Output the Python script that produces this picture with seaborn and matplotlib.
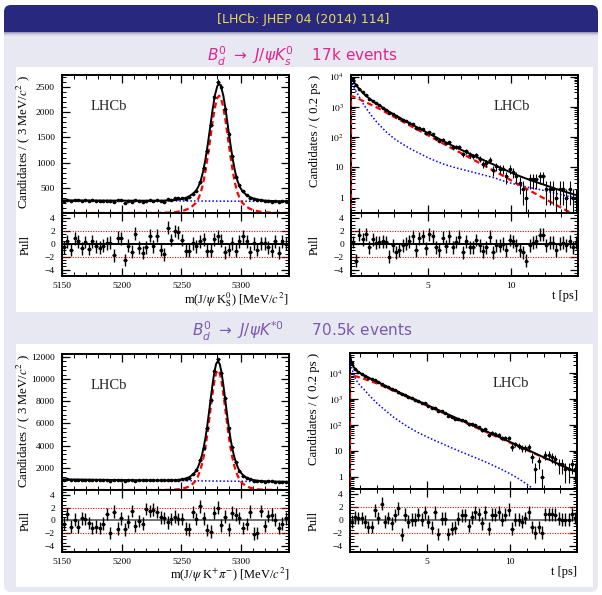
import numpy as np
import matplotlib
matplotlib.use("Agg")
import matplotlib.pyplot as plt
import seaborn as sns
from matplotlib.patches import FancyBboxPatch, Rectangle
from matplotlib.ticker import FixedLocator, FixedFormatter, MultipleLocator, NullFormatter, LogLocator

# ------------------------------------------------------------------ data
title_text = "[LHCb: JHEP 04 (2014) 114]"
subtitle_top = r"$B_d^0\ \rightarrow\ J/\psi K_s^0$" + "    17k events"
subtitle_bot = r"$B_d^0\ \rightarrow\ J/\psi K^{*0}$" + "      70.5k events"

# mass binning (3 MeV bins from 5150) and decay-time binning (0.2 ps bins from 0.4)
mass_centers = 5151.5 + 3.0 * np.arange(63)
time_centers = 0.5 + 0.2 * np.arange(68)

# --- B0 -> J/psi KS : mass
ks_mass_counts = [242, 255, 235, 263, 254, 237, 253, 235, 253, 241, 238, 241, 248, 248, 217, 260,
                  259, 205, 239, 225, 268, 234, 221, 235, 263, 238, 264, 231, 220, 285, 258, 289,
                  297, 290, 282, 312, 379, 443, 606, 892, 1238, 1751, 2308, 2606, 2510, 2064, 1578,
                  1131, 724, 547, 436, 360, 289, 287, 252, 255, 247, 232, 221, 241, 211, 237, 230]
ks_mass_pulls = [-0.5, 0.4, -0.9, 0.9, 0.4, -0.7, 0.3, -0.8, 0.4, -0.4, -0.6, -0.3, 0.1, 0.15, -1.8,
                 0.95, 0.9, -2.5, -0.3, -1.2, 1.6, -0.6, -1.4, -0.5, 1.3, -0.4, 1.3, -0.9, -1.6, 2.5,
                 0.6, 2.0, 1.8, 0.6, -1.05, -1.05, 0.1, -0.4, 0.4, 0.7, -1.05, -1.05, 0.7, 1.2, 0.5,
                 -1.3, -0.9, 0.1, -1.05, 0.4, 1.15, 0.4, -1.3, 0.1, -0.95, 0.1, 0.1, -0.5, -1.05, 0.4,
                 -1.4, 0.4, 0.0]
ks_mass_curve_x = [5150, 5200, 5230, 5240, 5245, 5250, 5253, 5256, 5259, 5262, 5264, 5266, 5268, 5270,
                   5272, 5274, 5276, 5278, 5280, 5281.5, 5283, 5285, 5287, 5289, 5291, 5293, 5295, 5297,
                   5299, 5301, 5304, 5307, 5310, 5315, 5320, 5330, 5340]
ks_mass_total = [250, 245, 244, 250, 258, 278, 296, 327, 372, 438, 516, 633, 813, 1057, 1362, 1702, 2047,
                 2337, 2521, 2566, 2521, 2336, 2046, 1700, 1360, 1055, 810, 630, 512, 434, 367, 322, 290,
                 262, 245, 235, 232]
ks_mass_signal = [0, 0, 2.5, 9, 18, 38, 57, 88, 133, 200, 278, 395, 575, 820, 1125, 1465, 1810, 2100,
                  2285, 2330, 2285, 2100, 1810, 1465, 1125, 820, 575, 395, 278, 200, 133, 88, 57, 29,
                  13, 3.5, 1.5]
ks_mass_bkg_x = [5150, 5340]
ks_mass_bkg = [250, 230]

# --- B0 -> J/psi KS : decay time
ks_time_counts = [7726, 5111, 3987, 3038, 2402, 1878, 1598, 1320, 1120, 952, 808, 637, 585, 481, 419,
                  379, 334, 299, 272, 205, 204, 184, 138, 145, 125, 93, 77, 83, 63, 67, 48, 48, 48, 28,
                  34, 26, 23, 25, 19, 13, 14, 18, 8, 11, 9, 9, 5, 9, 7, 5, 3, 2, 1, 4, 4, 4, 5, 5, 2,
                  2, 2, 1, 2, 2, 1, 2, 1, 1]
ks_time_pulls = [0.3, -2.6, 1.4, 0.7, 1.5, -0.5, 0.7, 0.15, 0.3, 0.4, 0.3, -2.0, -0.2, -1.3, -1.0,
                 -0.2, 0.05, 0.4, 1.2, -1.0, 0.85, 1.2, -0.7, 1.5, 1.2, -0.5, -1.0, 0.95, -0.4, 1.2,
                 -0.5, 0.3, 1.1, -1.3, 0.4, -0.5, -0.5, 0.6, -0.2, -1.15, -0.5, 1.1, -1.3, -0.2, -0.3,
                 0.05, -1.0, 0.6, 0.4, -0.2, -1.0, -1.3, -2.6, -0.2, 0.15, 0.4, 1.4, 1.4, -0.2, 0.15,
                 0.15, -1.0, 0.05, 0.15, -0.2, 0.4, -0.5, 0.15]
ks_time_curve_x = [0.4, 0.5, 0.6, 0.7, 0.8, 0.9, 1.0, 1.2, 1.4, 1.6, 1.8, 2.0, 2.5, 3.0, 3.5, 4.0, 4.5,
                   5.0, 5.5, 6.0, 6.5, 7.0, 7.5, 8.0, 8.5, 9.0, 9.5, 10.0, 10.5, 11.0, 11.5, 12.0, 12.5,
                   13.0, 13.5, 14.0]
ks_time_total = [9800, 7700, 6300, 5300, 4500, 3900, 3400, 2600, 2090, 1720, 1430, 1210, 800, 548, 383,
                 270, 192, 137, 98, 70.5, 51.3, 38.2, 28.4, 21.2, 15.9, 12.0, 8.9, 6.7, 5.15, 4.05,
                 3.25, 2.62, 2.1, 1.71, 1.41, 1.16]
ks_time_bkg = [7500, 5500, 4200, 3300, 2600, 2100, 1700, 1100, 760, 540, 390, 290, 150, 88, 58, 40, 29,
               21, 16, 12.5, 10.3, 8.7, 7.4, 6.3, 5.3, 4.5, 3.6, 3.0, 2.55, 2.2, 1.95, 1.7, 1.45,
               1.25, 1.08, 0.93]
ks_time_sig_x = [0.4, 0.402, 0.5, 0.6, 0.7, 0.8, 0.9, 1.0, 1.2, 1.4, 1.6, 1.8, 2.0, 2.5, 3.0, 3.5, 4.0,
                 4.5, 5.0, 5.5, 6.0, 6.5, 7.0, 7.5, 8.0, 8.5, 9.0, 9.5, 10.0, 10.5, 11.0, 11.5, 12.0,
                 12.5, 13.0, 13.5, 14.0]
ks_time_signal = [0.05, 2300, 2200, 2100, 2000, 1900, 1800, 1700, 1500, 1330, 1180, 1040, 920, 650, 460,
                  325, 230, 163, 116, 82, 58, 41, 29.5, 21, 14.9, 10.6, 7.5, 5.3, 3.7, 2.6, 1.85, 1.3,
                  0.92, 0.65, 0.46, 0.33, 0.23]

# --- B0 -> J/psi K*0 : mass
kst_mass_counts = [933, 976, 911, 941, 904, 941, 934, 913, 886, 888, 879, 897, 938, 845, 944, 860, 904,
                   850, 883, 930, 855, 876, 860, 925, 913, 915, 900, 880, 877, 858, 879, 904, 918, 965,
                   994, 1114, 1437, 1784, 2663, 3807, 5603, 8098, 10733, 11821, 10520, 8303, 5590, 3836,
                   2564, 1753, 1299, 1089, 1020, 830, 781, 849, 762, 793, 791, 762, 720, 735, 753]
kst_mass_pulls = [-0.5, 1.0, -1.0, 0.1, -1.0, 0.3, 0.2, -0.4, -1.2, -1.0, -1.2, -0.5, 1.0, -2.0, 1.4,
                  -1.3, 0.3, -1.4, -0.2, 1.5, -0.9, -0.1, -0.5, 1.8, 1.5, 1.7, 1.3, 0.5, 0.4, -0.3, 0.2,
                  0.6, 0.2, 0.2, -1.3, -1.4, 1.3, 0.2, 2.2, 0.3, -1.5, -1.8, 1.2, 2.0, -0.8, 0.6, -1.4,
                  1.2, 0.9, 0.4, -1.2, -0.6, 1.4, -2.1, -2.0, 1.5, -0.9, 0.7, 0.9, 0.1, -1.2, -0.5, 0.3]
kst_mass_curve_x = [5150, 5200, 5225, 5235, 5240, 5244.5, 5247.5, 5250.5, 5253.5, 5256.5, 5259.5, 5261,
                    5262.5, 5264, 5265.5, 5267, 5268.5, 5270, 5271.5, 5273, 5274.5, 5276, 5277.5, 5279,
                    5280.5, 5282, 5283.5, 5285, 5286.5, 5288, 5289.5, 5291, 5292.5, 5294, 5295.5, 5297,
                    5298.5, 5300, 5301.5, 5304.5, 5307.5, 5310.5, 5313.5, 5316.5, 5320.5, 5325.5,
                    5330.5, 5340]
kst_mass_total = [950, 896, 869, 865, 870, 886, 912, 959, 1036, 1162, 1389, 1562, 1775, 2114, 2552, 3091,
                  3789, 4667, 5716, 6964, 8262, 9511, 10609, 11357, 11606, 11354, 10602, 9501, 8249,
                  6948, 5696, 4644, 3763, 3061, 2519, 2078, 1736, 1519, 1343, 1109, 976, 893, 839, 806,
                  782, 765, 755, 741]
kst_mass_signal = [0, 0.5, 2, 9, 19, 40, 70, 120, 200, 330, 560, 735, 950, 1290, 1730, 2270, 2970, 3850,
                   4900, 6150, 7450, 8700, 9800, 10550, 10800, 10550, 9800, 8700, 7450, 6150, 4900,
                   3850, 2970, 2270, 1730, 1290, 950, 735, 560, 330, 200, 120, 70, 40, 20, 9, 4, 1]
kst_mass_bkg_x = [5150, 5340]
kst_mass_bkg = [950, 740]

# --- B0 -> J/psi K*0 : decay time
kst_time_counts = [24153, 14448, 11132, 9229, 7873, 6610, 5716, 5157, 4390, 3934, 3233, 2846, 2425, 2152,
                   1927, 1518, 1430, 1219, 1080, 950, 853, 730, 670, 548, 463, 450, 332, 331, 290, 217,
                   200, 176, 171, 158, 139, 104, 104, 98, 85, 63, 69, 42, 51, 45, 42, 31, 31, 31, 14,
                   18, 16, 13, 13, 14, 6, 2, 4, 1, 7, 7, 6, 5, 3, 3, 2, 2, 3, 2]
kst_time_pulls = [-0.3, 0.4, 0.3, 0.3, -0.3, -1.1, -1.1, 1.5, 0.3, 2.5, -0.3, 0.3, -0.5, 0.7, 1.8, -2.3,
                  0.8, -0.3, 0.0, 0.0, 0.8, 0.0, 1.2, -0.3, -1.2, 1.2, -2.2, 0.15, 0.15, -2.2, -1.35,
                  -1.2, 0.15, 0.7, 0.7, -0.9, 0.4, 1.2, 0.9, -0.5, 1.2, -1.35, 0.8, 0.8, 1.2, 0.0, 0.8,
                  1.6, -1.35, 0.0, 0.0, -0.3, 0.3, 1.2, -1.1, -2.0, -1.1, -2.0, 0.9, 0.9, 0.9, 0.8,
                  0.15, 0.0, 0.0, 0.0, 0.9, 0.3]
kst_time_curve_x = [0.4, 0.5, 0.6, 0.7, 0.8, 1.0, 1.25, 1.5, 2.0, 2.5, 3.0, 3.5, 4.0, 4.5, 5.0, 5.5, 6.0,
                    6.5, 7.0, 7.5, 8.0, 8.5, 9.0, 9.5, 10.0, 10.5, 11.0, 11.5, 12.0, 12.5, 13.0, 13.5,
                    14.0]
kst_time_total = [53400, 24200, 17900, 14400, 12300, 10000, 8200, 6700, 4700, 3250, 2270, 1610, 1150, 823,
                  591, 425, 306, 220, 158.5, 114, 82.2, 59.3, 42.7, 30.6, 21.9, 15.75, 11.2, 8.0, 5.67,
                  4.1, 2.93, 2.1, 1.5]
kst_time_bkg = [45000, 16000, 10000, 6800, 5000, 3300, 2300, 1500, 700, 370, 200, 120, 75, 50, 35, 25,
                18, 13, 9.5, 7, 5.2, 3.8, 2.7, 1.9, 1.3, 0.85, 0.52, 0.3, 0.17, 0.1, 0.06, 0.035, 0.02]
kst_time_sig_x = [0.4, 0.402, 0.5, 0.6, 0.7, 0.8, 1.0, 1.25, 1.5, 2.0, 2.5, 3.0, 3.5, 4.0, 4.5, 5.0,
                  5.5, 6.0, 6.5, 7.0, 7.5, 8.0, 8.5, 9.0, 9.5, 10.0, 10.5, 11.0, 11.5, 12.0, 12.5,
                  13.0, 13.5, 14.0]
kst_time_signal = [0.05, 8400, 8200, 7900, 7600, 7300, 6700, 5900, 5200, 4000, 2880, 2070, 1490, 1075,
                   773, 556, 400, 288, 207, 149, 107, 77, 55.5, 40, 28.7, 20.6, 14.9, 10.7, 7.7, 5.5,
                   4.0, 2.87, 2.06, 1.48]

# ------------------------------------------------------------------ style
sns.set_theme(style="ticks")
plt.rcParams.update({
    "font.family": ["Liberation Serif", "DejaVu Serif"],
    "mathtext.fontset": "stix",
    "axes.linewidth": 1.4,
    "axes.edgecolor": "black",
    "xtick.direction": "in", "ytick.direction": "in",
    "xtick.top": True, "ytick.right": True,
    "xtick.major.size": 5.5, "ytick.major.size": 5.5,
    "xtick.minor.size": 2.8, "ytick.minor.size": 2.8,
    "xtick.major.width": 0.9, "ytick.major.width": 0.9,
    "xtick.minor.width": 0.7, "ytick.minor.width": 0.7,
    "xtick.color": "black", "ytick.color": "black",
    "xtick.labelsize": 6.8, "ytick.labelsize": 6.8,
    "axes.labelsize": 9, "axes.labelcolor": "black",
})

W, H = 602, 595
fig = plt.figure(figsize=(W / 100, H / 100), dpi=100, facecolor="white")

# ------------------------------------------------------------------ slide background
bg = fig.add_axes([0, 0, 1, 1], zorder=-10)
bg.set_xlim(0, W)
bg.set_ylim(H, 0)
bg.axis("off")
slide_bg = "#e8e8f2"
navy = "#29287f"
bg.add_patch(FancyBboxPatch((4, 5), 594, 587, boxstyle="round,pad=0,rounding_size=7",
                            fc=slide_bg, ec="none"))
bg.add_patch(FancyBboxPatch((4, 5), 594, 27, boxstyle="round,pad=0,rounding_size=7",
                            fc=navy, ec="none"))
bg.add_patch(Rectangle((4, 20), 594, 12, fc=navy, ec="none"))
for i, c in enumerate(["#9c9cb4", "#b8b8cc", "#d0d0e0", "#dedee9"]):
    bg.add_patch(Rectangle((4, 32 + i), 594, 1, fc=c, ec="none"))
bg.add_patch(Rectangle((16, 67), 577, 245, fc="white", ec="none"))
bg.add_patch(Rectangle((16, 344), 577, 243, fc="white", ec="none"))

bg.text(303, 19, title_text, color="#ecdc50", ha="center", va="center", fontsize=9,
        family="DejaVu Sans")
bg.text(302, 56, subtitle_top, color="#e3238b", ha="center", va="center", fontsize=11,
        family="DejaVu Sans", math_fontfamily="dejavusans")
bg.text(302, 331, subtitle_bot, color="#7a58b0", ha="center", va="center", fontsize=11,
        family="DejaVu Sans", math_fontfamily="dejavusans")


def rect(x0, y_top, w, h):
    return [x0 / W, 1 - (y_top + h) / H, w / W, h / H]


def style_pull(axp, xlim, xmaj, xmin_step, xlabel, zero_color):
    axp.axhline(0, color=zero_color, lw=1.4, zorder=2)
    for lvl in (2, -2):
        axp.axhline(lvl, color="red", ls=(0, (1, 1.3)), lw=0.8, zorder=2)
    axp.set_xlim(*xlim)
    axp.set_ylim(-5.0, 4.8)
    axp.yaxis.set_major_locator(FixedLocator([-4, -2, 0, 2, 4]))
    axp.yaxis.set_minor_locator(MultipleLocator(0.5))
    axp.xaxis.set_major_locator(FixedLocator(xmaj))
    axp.xaxis.set_minor_locator(MultipleLocator(xmin_step))
    axp.tick_params(axis="y", which="major", pad=5)
    axp.tick_params(axis="x", which="major", pad=4)
    axp.set_ylabel("Pull", fontsize=9)
    axp.yaxis.set_label_coords(-0.135, 0.5)
    axp.set_xlabel(xlabel, loc="right", labelpad=0.5)


def draw_points(ax, x, y, xerr, yerr, lw=0.8):
    ax.errorbar(x, y, xerr=xerr, yerr=yerr, fmt="o", ms=1.6, color="black",
                elinewidth=lw, capsize=0, zorder=5)


def mass_panel(x0, y_top, hmain, hpull, counts, pulls, cx, ctot, csig, bx, bval,
               ylim, yticks, yminor, xlabel, zero_color):
    ax = fig.add_axes(rect(x0, y_top, 227, hmain))
    axp = fig.add_axes(rect(x0, y_top + hmain, 227, hpull))
    counts = np.asarray(counts, float)
    draw_points(ax, mass_centers, counts, 1.5, np.sqrt(counts))
    sns.lineplot(x=bx, y=bval, ax=ax, color="blue", lw=1.1, linestyle=(0, (1, 1.4)), zorder=3)
    sns.lineplot(x=cx, y=csig, ax=ax, color="red", lw=1.6, linestyle=(0, (2.6, 1.6)), zorder=3)
    sns.lineplot(x=cx, y=ctot, ax=ax, color="black", lw=1.4, zorder=4)
    ax.set_xlim(5150, 5340)
    ax.set_ylim(*ylim)
    ax.xaxis.set_major_locator(FixedLocator([5150, 5200, 5250, 5300]))
    ax.xaxis.set_minor_locator(MultipleLocator(10))
    ax.yaxis.set_major_locator(FixedLocator(yticks))
    ax.yaxis.set_minor_locator(MultipleLocator(yminor))
    ax.tick_params(labelbottom=False)
    ax.tick_params(axis="y", which="major", pad=5)
    ax.set_xlabel("")
    ax.set_ylabel(r"Candidates / ( 3 MeV/$c^2$ )", loc="top", fontsize=9.2)
    ax.yaxis.set_label_coords(-0.133, 1.0)
    ax.text(0.125, 0.77, "LHCb", transform=ax.transAxes, fontsize=10.5, va="center", ha="left")

    draw_points(axp, mass_centers, pulls, 1.5, 1.0, lw=1.0)
    style_pull(axp, (5150, 5340), [5150, 5200, 5250, 5300], 10, xlabel, zero_color)
    return ax, axp


def time_panel(x0, y_top, hmain, hpull, counts, pulls, cx, ctot, cbkg, sx, csig, ylim, xlabel,
               zero_color):
    ax = fig.add_axes(rect(x0, y_top, 227, hmain))
    axp = fig.add_axes(rect(x0, y_top + hmain, 227, hpull))
    ax.set_yscale("log", nonpositive="clip")
    counts = np.asarray(counts, float)
    up = np.sqrt(counts)
    lo = counts - np.maximum(counts - np.sqrt(counts), 1e-3)
    draw_points(ax, time_centers, counts, 0.1, [lo, up])
    sns.lineplot(x=cx, y=cbkg, ax=ax, color="blue", lw=1.1, linestyle=(0, (1, 1.4)), zorder=3)
    sns.lineplot(x=sx, y=csig, ax=ax, color="red", lw=1.6, linestyle=(0, (2.6, 1.6)), zorder=3)
    sns.lineplot(x=cx, y=ctot, ax=ax, color="black", lw=1.4, zorder=4)
    ax.set_xlim(0.4, 14.0)
    ax.set_ylim(*ylim)
    ax.xaxis.set_major_locator(FixedLocator([5, 10]))
    ax.xaxis.set_minor_locator(MultipleLocator(1))
    ax.yaxis.set_major_locator(FixedLocator([1, 10, 100, 1000, 10000]))
    ax.yaxis.set_major_formatter(FixedFormatter(["1", "10", r"$10^2$", r"$10^3$", r"$10^4$"]))
    ax.yaxis.set_minor_locator(LogLocator(base=10, subs=np.arange(2, 10), numticks=20))
    ax.yaxis.set_minor_formatter(NullFormatter())
    ax.tick_params(labelbottom=False)
    ax.tick_params(axis="y", which="major", pad=5)
    ax.set_xlabel("")
    ax.set_ylabel("Candidates / ( 0.2 ps )", loc="top", fontsize=9.2)
    ax.yaxis.set_label_coords(-0.133, 1.0)
    ax.text(0.63, 0.775, "LHCb", transform=ax.transAxes, fontsize=10.5, va="center", ha="left")

    draw_points(axp, time_centers, pulls, 0.1, 1.0, lw=1.0)
    style_pull(axp, (0.4, 14.0), [5, 10], 1, xlabel, zero_color)
    return ax, axp


mass_panel(62, 75, 138, 63, ks_mass_counts, ks_mass_pulls, ks_mass_curve_x, ks_mass_total,
           ks_mass_signal, ks_mass_bkg_x, ks_mass_bkg, (0, 2740), [500, 1000, 1500, 2000, 2500], 100,
           r"m(J/$\psi$ K$^0_{\rm S}$) [MeV/$c^2$]", "black")
time_panel(351, 75, 138, 63, ks_time_counts, ks_time_pulls, ks_time_curve_x, ks_time_total,
           ks_time_bkg, ks_time_sig_x, ks_time_signal, (0.31, 1.13e4), "t [ps]", "black")
mass_panel(62, 354, 136, 62, kst_mass_counts, kst_mass_pulls, kst_mass_curve_x, kst_mass_total,
           kst_mass_signal, kst_mass_bkg_x, kst_mass_bkg, (0, 12250),
           [2000, 4000, 6000, 8000, 10000, 12000], 400,
           r"m(J/$\psi$ K$^{+}\pi^{-}$) [MeV/$c^2$]", "#707070")
time_panel(350, 353, 136, 63, kst_time_counts, kst_time_pulls, kst_time_curve_x, kst_time_total,
           kst_time_bkg, kst_time_sig_x, kst_time_signal, (0.34, 5.9e4), "t [ps]", "#707070")

fig.savefig("out.png", dpi=100, facecolor="white")
